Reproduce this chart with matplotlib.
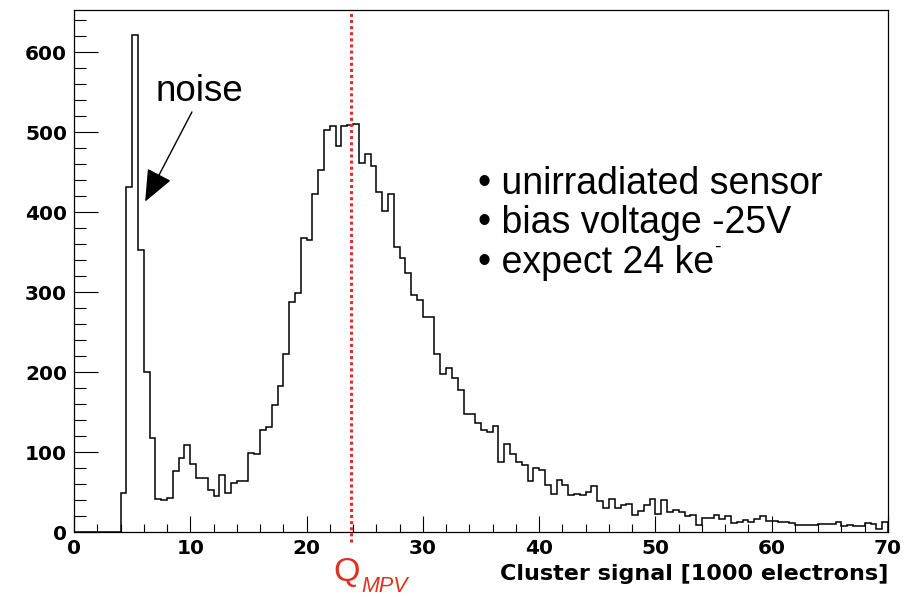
import numpy as np
import matplotlib
matplotlib.use('Agg')
import matplotlib.pyplot as plt
from matplotlib.ticker import MultipleLocator

plt.rc('font', family=['Liberation Sans', 'DejaVu Sans'])

# Histogram data: bin edges every 0.5 (1000 electrons), counts per bin
bin_edges = np.arange(0, 70.5, 0.5)
counts = [
    0, 0, 0, 0, 0, 0, 0, 0,
    49, 431, 621, 352, 200, 118, 41, 40, 43, 76,
    93, 109, 85, 68, 68, 52, 45, 71, 49, 61,
    64, 64, 99, 98, 127, 131, 159, 182, 223, 288,
    299, 367, 365, 422, 452, 502, 507, 482, 507, 509,
    510, 461, 472, 458, 425, 401, 423, 356, 343, 324,
    296, 290, 269, 269, 222, 198, 205, 193, 178, 148,
    148, 136, 128, 125, 133, 88, 110, 98, 87, 84,
    64, 80, 77, 59, 48, 65, 59, 46, 48, 46,
    50, 58, 39, 30, 41, 30, 34, 35, 21, 26,
    34, 41, 22, 40, 25, 28, 25, 20, 21, 9,
    18, 17, 21, 16, 20, 11, 12, 15, 13, 16,
    20, 14, 14, 12, 12, 11, 9, 9, 9, 9,
    10, 10, 10, 12, 8, 9, 7, 8, 11, 10,
    4, 12,
]
q_mpv = 23.8
notes = ['\u2022 unirradiated sensor', '\u2022 bias voltage -25V', '\u2022 expect 24 ke']
note_y = [422.5, 374, 324]

red = '#e0301e'
tickfont = dict(family='DejaVu Sans', weight='bold', size=14.5)

fig = plt.figure(figsize=(9.16, 5.97), dpi=100)
ax = fig.add_axes([74/916, 1-532/597, 814/916, 522/597])

ax.stairs(counts, bin_edges, color='black', lw=1.1, baseline=0)

ax.set_xlim(0, 70)
ax.set_ylim(0, 652.5)

# ROOT-like frame and ticks
for s in ax.spines.values():
    s.set_linewidth(0.9)
ax.xaxis.set_major_locator(MultipleLocator(10))
ax.xaxis.set_minor_locator(MultipleLocator(2))
ax.yaxis.set_major_locator(MultipleLocator(100))
ax.yaxis.set_minor_locator(MultipleLocator(20))
ax.tick_params(axis='x', which='major', direction='in', length=11.3, width=0.8, pad=5)
ax.tick_params(axis='x', which='minor', direction='in', length=5.6, width=0.8)
ax.tick_params(axis='y', which='major', direction='in', length=17.3, width=0.8, pad=5)
ax.tick_params(axis='y', which='minor', direction='in', length=8.6, width=0.8)
for lab in ax.get_xticklabels() + ax.get_yticklabels():
    lab.set_fontproperties(tickfont)

# MPV line
ax.plot([q_mpv, q_mpv], [-12, 652.5], color=red, lw=2.2, linestyle=(0, (1, 1)), clip_on=False)

# noise annotation
ax.annotate('', xy=(6.12, 413), xytext=(10.14, 525),
            arrowprops=dict(arrowstyle='-|>,head_length=1.0,head_width=0.42',
                            mutation_scale=20, lw=1, color='black',
                            shrinkA=0, shrinkB=0))
ax.text(10.8, 539, 'noise', fontsize=26.5, ha='center', va='baseline')

# notes
texts = []
for t, y in zip(notes, note_y):
    texts.append(ax.text(34.7, y, t, fontsize=27, ha='left', va='baseline'))
# superscript minus of ke-
ax.annotate('-', xy=(1.0, 1.0), xycoords=texts[-1], fontsize=14,
            ha='left', va='top', xytext=(0.5, 4), textcoords='offset points')

# labels
fig.text(888/916, 1-580/597, 'Cluster signal [1000 electrons]',
         family='DejaVu Sans', fontsize=16, fontweight='bold', ha='right', va='baseline')
fig.text(347/916, 1-581/597, 'Q', fontsize=24.5, color=red, ha='center', va='baseline')
fig.text(361/916, 1-592.5/597, 'MPV', fontsize=15.5, style='italic', color=red,
         ha='left', va='baseline')

fig.savefig('out.png', dpi=100)
